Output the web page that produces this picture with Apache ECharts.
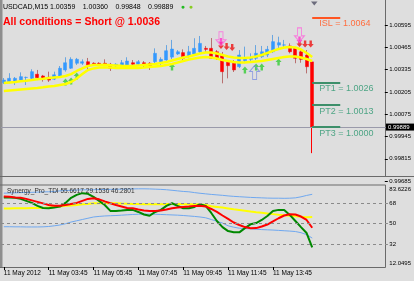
<!DOCTYPE html>
<html><head><meta charset="utf-8">
<script src="https://cdn.jsdelivr.net/npm/echarts@6/dist/echarts.min.js"></script>
<style>html,body{margin:0;padding:0;background:#DEDEDE}#c{width:414px;height:281px}</style>
</head><body><div id="c"></div>
<script>
const FONT = "'Liberation Sans', Arial, sans-serif";

// ---- categories (M15 bars, 11 May 2012) ----
const categories = ['01:45','02:00','02:15','02:30','02:45','03:00','03:15','03:30','03:45','04:00','04:15','04:30','04:45','05:00','05:15','05:30','05:45','06:00','06:15','06:30','06:45','07:00','07:15','07:30','07:45','08:00','08:15','08:30','08:45','09:00','09:15','09:30','09:45','10:00','10:15','10:30','10:45','11:00','11:15','11:30','11:45','12:00','12:15','12:30','12:45','13:00','13:15','13:30','13:45','14:00','14:15','14:30','14:45','15:00','15:15','15:30',
  '15:45','16:00','16:15','16:30','16:45','17:00','17:15','17:30','17:45','18:00','18:15','18:30','18:45'];
const firstDateLabel = '11 May 2012';
const datePrefix = '11 May ';

// ---- candles [open, close, low, high] ----
const ohlc = [
[1.00259,1.00274,1.00251,1.00286],[1.00265,1.00284,1.00255,1.00314],[1.00269,1.00284,1.00245,1.00292],[1.00274,1.00294,1.00269,1.00319],
[1.00289,1.00290,1.00245,1.00294],[1.00284,1.00323,1.00279,1.00337],[1.00308,1.00288,1.00274,1.00333],[1.00298,1.00279,1.00265,1.00304],
[1.00290,1.00274,1.00263,1.00323],[1.00279,1.00305,1.00274,1.00323],[1.00294,1.00343,1.00286,1.00356],[1.00333,1.00375,1.00323,1.00407],
[1.00343,1.00395,1.00339,1.00407],[1.00372,1.00395,1.00362,1.00403],[1.00372,1.00381,1.00362,1.00395],[1.00381,1.00362,1.00333,1.00403],
[1.00372,1.00364,1.00356,1.00378],[1.00372,1.00362,1.00356,1.00378],[1.00372,1.00358,1.00356,1.00395],[1.00366,1.00343,1.00327,1.00374],
[1.00356,1.00366,1.00350,1.00372],[1.00356,1.00375,1.00350,1.00391],[1.00362,1.00385,1.00356,1.00407],[1.00375,1.00366,1.00356,1.00391],
[1.00366,1.00381,1.00356,1.00391],[1.00375,1.00360,1.00350,1.00385],[1.00372,1.00358,1.00333,1.00379],[1.00381,1.00430,1.00372,1.00459],
[1.00381,1.00395,1.00362,1.00407],[1.00391,1.00445,1.00384,1.00478],[1.00408,1.00455,1.00396,1.00508],[1.00426,1.00439,1.00420,1.00449],
[1.00434,1.00401,1.00381,1.00453],[1.00414,1.00439,1.00401,1.00473],[1.00426,1.00459,1.00420,1.00518],[1.00439,1.00488,1.00432,1.00531],
[1.00459,1.00453,1.00437,1.00473],[1.00459,1.00401,1.00397,1.00519],[1.00439,1.00401,1.00391,1.00449],[1.00420,1.00323,1.00255,1.00438],
[1.00378,1.00358,1.00284,1.00385],[1.00372,1.00333,1.00321,1.00391],[1.00352,1.00420,1.00344,1.00449],[1.00387,1.00401,1.00372,1.00469],
[1.00395,1.00401,1.00381,1.00430],[1.00401,1.00430,1.00391,1.00478],[1.00410,1.00439,1.00403,1.00473],[1.00420,1.00453,1.00408,1.00473],
[1.00439,1.00498,1.00432,1.00537],[1.00478,1.00492,1.00459,1.00527],[1.00478,1.00479,1.00459,1.00508],[1.00473,1.00439,1.00430,1.00488],
[1.00459,1.00401,1.00372,1.00467],[1.00439,1.00395,1.00375,1.00449],[1.00420,1.00352,1.00313,1.00449],[1.00380,1.00000,0.99848,1.00390]
];

// ---- yellow bands on price ----
const bandUpper = [1.00257,1.00260,1.00263,1.00267,1.00270,1.00274,1.00279,1.00282,1.00286,1.00289,1.00292,1.00298,1.00309,1.00327,1.00342,1.00356,1.00362,1.00362,1.00363,1.00361,1.00359,1.00357,1.00356,1.00356,1.00359,1.00362,1.00365,1.00368,1.00374,1.00379,1.00388,1.00397,1.00406,1.00411,1.00420,1.00429,1.00435,1.00435,1.00429,1.00420,1.00411,1.00406,1.00403,1.00403,1.00406,1.00411,1.00420,1.00432,1.00444,1.00455,1.00464,1.00467,1.00464,1.00452,1.00432,1.00409];
const bandLower = [1.00210,1.00213,1.00216,1.00219,1.00222,1.00225,1.00228,1.00232,1.00237,1.00239,1.00245,1.00251,1.00263,1.00283,1.00309,1.00333,1.00342,1.00347,1.00348,1.00347,1.00345,1.00344,1.00344,1.00344,1.00345,1.00347,1.00350,1.00353,1.00356,1.00362,1.00368,1.00376,1.00385,1.00394,1.00400,1.00406,1.00409,1.00406,1.00400,1.00391,1.00385,1.00379,1.00376,1.00376,1.00379,1.00382,1.00385,1.00391,1.00397,1.00403,1.00409,1.00411,1.00411,1.00406,1.00397,1.00385];

// ---- signal arrows [barIndex, price] ----
const buyArrows = [[11,1.00263],[12,1.00268],[13,1.00298],[30,1.00350],[43,1.00333],[45,1.00350],[46,1.00350],[49,1.00379]];
const sellArrows = [[39,1.00475],[40,1.00470],[41,1.00464],[53,1.00487],[54,1.00484],[55,1.00484]];
const entrySellArrows = [[39,1.00499],[53,1.00508]];
const hollowSell = [[39,1.00515],[53,1.00538]];
const hollowBuy = [[45,1.00318]];

// ---- trade levels ----
const levelNames = ['ISL','PT1','PT2','PT3'];
const levelValues = [1.0064,1.0026,1.0013,1.0000];
const levelStartBar = 55, levelEndBar = 60;
const lastPrice = 0.99889;
const headerName = 'USDCAD,M15';
const headerValues = ['1.00359','1.00360','0.99848','0.99889'];
const signalText = 'All conditions = Short @ 1.0036';

// ---- price axis ----
const priceTicks = [0.99685,0.99815,0.99945,1.00075,1.00205,1.00335,1.00465,1.00595];
const priceMin = 0.99685, priceMax = 1.00735;

// ---- TDI sub window ----
const tdiName = 'Synergy_Pro_TDI';
const tdiHeaderValues = ['55.6617','29.1536','46.2801'];
const tdiGreen = [72.7,72.8,72.4,71.5,69.8,68.0,65.4,63.6,63.3,64.0,64.8,68.0,72.4,75.0,76.5,75.9,73.3,69.8,66.2,61.0,61.0,61.4,61.9,61.9,60.1,57.9,56.8,60.1,61.9,65.4,67.7,65.4,63.3,63.3,64.5,66.9,65.4,59.2,52.2,46.9,43.4,42.3,42.3,46.0,49.3,50.4,53.1,56.6,61.0,61.9,61.9,57.5,52.2,46.9,41.7,29.1536];
const tdiRed = [73.5,73.3,72.8,72.4,71.5,70.2,68.9,67.6,66.2,65.6,65.6,66.2,67.1,68.0,69.8,71.5,72.1,71.1,69.3,67.7,66.2,64.9,63.6,63.3,62.3,61.4,61.0,61.0,61.4,62.3,63.3,64.0,64.5,64.9,65.4,65.6,64.9,62.7,60.1,57.0,54.0,50.9,48.7,46.9,45.8,46.0,47.4,49.1,51.8,54.6,57.0,58.1,57.9,56.1,53.1,46.2801];
const tdiYellow = [63.2,63.2,63.3,63.3,63.4,63.5,63.5,63.7,64.0,64.5,64.9,65.4,65.8,66.2,66.9,67.1,67.6,67.7,67.7,67.7,67.6,67.4,67.3,67.1,67.1,66.9,66.9,66.9,66.9,67.1,67.1,67.1,66.9,66.9,66.9,66.7,66.2,65.1,64.5,63.9,63.2,62.5,61.9,61.2,60.5,59.9,59.4,58.8,58.2,57.6,57.2,56.8,56.3,55.9,55.5,55.6617];
const tdiUpper = [76.5,76.6,76.8,77.0,77.1,77.2,77.4,77.6,77.7,78.0,78.5,78.8,79.0,79.2,79.4,79.4,79.5,79.6,79.7,79.8,79.9,80.0,80.1,80.2,80.3,80.3,80.2,80.0,79.8,79.5,79.0,78.5,78.0,77.7,77.0,76.4,75.9,75.4,75.0,74.6,74.1,73.7,73.4,73.1,72.8,72.6,72.4,72.2,72.1,72.1,72.0,72.1,72.4,73.3,74.5,75.5];
const tdiLower = [47.2,47.2,47.1,47.1,47.0,47.0,47.0,47.1,47.4,48.0,48.7,49.8,51.3,52.4,53.5,54.6,55.7,56.2,56.6,56.8,57.0,57.3,57.6,57.9,58.1,58.2,58.2,58.1,57.9,57.7,57.5,57.3,57.0,56.6,56.2,55.7,55.0,53.5,52.0,50.4,48.0,46.8,45.9,45.6,45.4,45.0,44.7,44.5,44.3,44.0,43.7,43.4,43.0,42.0,40.3,37.3];
const tdiLevels = [32,50,68];
const tdiMin = 12.0495, tdiMax = 83.6226;
const tdiLabels = [tdiMin,32,50,68,tdiMax];

// ---- build ----
const bodies = ohlc.map(d => [d[0], d[1], Math.min(d[0], d[1]), Math.max(d[0], d[1])]);
const wicks = ohlc.map((d, i) => i === ohlc.length - 1
  ? {value: d, itemStyle: {color0: '#FF0000', borderColor0: '#FF0000'}} : d);
const showTick = (i) => i % 8 === 0 && i <= 48;

const arrowUp = 'path://M5,0 L10,5.5 L7,5.5 L7,11 L3,11 L3,5.5 L0,5.5 Z';
const arrowDown = 'path://M3,0 L7,0 L7,5.5 L10,5.5 L5,11 L0,5.5 L3,5.5 Z';
const hollowDown = 'path://M3,0 L7,0 L7,8 L10,8 L5,14 L0,8 L3,8 Z';
const hollowUp = 'path://M5,0 L10,6 L7,6 L7,14 L3,14 L3,6 L0,6 Z';

const levelLines = levelValues.map((v, k) => [
  {coord: [levelStartBar, v],
   lineStyle: {color: k === 0 ? '#FF5522' : '#3D8F6A', width: 2, type: 'solid'},
   label: {show: true, position: 'insideStartBottom', distance: [7, 2],
     formatter: levelNames[k] + ' = ' + v.toFixed(4),
     color: k === 0 ? '#FF6E40' : '#4EA585', fontSize: 9, fontFamily: FONT}},
  {coord: [levelEndBar, v]}
]);

const option = {
  animation: false,
  backgroundColor: '#DEDEDE',
  textStyle: {fontFamily: FONT},
  title: [
    {left: 3, top: 3.5, padding: 0,
     text: '{s|' + headerName + '}' + headerValues.map(v => '{n|' + v + '}').join('') + '{g|●}{h|●}',
     textStyle: {fontSize: 7, fontWeight: 'normal', color: '#000', fontFamily: FONT, lineHeight: 8,
       rich: {s: {width: 47, fontSize: 7, color: '#000', fontFamily: FONT},
              n: {width: 32.7, fontSize: 7, color: '#000', fontFamily: FONT},
              g: {width: 8, fontSize: 7, color: '#22BB22'},
              h: {width: 8, fontSize: 7, color: '#88CC22'}}}},
    {left: 3, top: 16.5, padding: 0, text: signalText,
     textStyle: {fontSize: 10.5, fontWeight: 'bold', color: '#FF0000', fontFamily: FONT}},
    {left: 7, top: 188, padding: 0, text: tdiName + ' ' + tdiHeaderValues.join(' '),
     textStyle: {fontSize: 6.5, fontWeight: 'normal', color: '#333', fontFamily: FONT}}
  ],
  grid: [
    {left: 1, right: 25.91, top: 1, bottom: 99.9},
    {left: 1, right: 25.91, top: 185, bottom: 14}
  ],
  xAxis: [
    {type: 'category', gridIndex: 0, data: categories, show: false},
    {type: 'category', gridIndex: 1, data: categories,
     axisLine: {show: false},
     axisTick: {show: true, alignWithLabel: true, length: 3, interval: showTick, lineStyle: {color: '#000'}},
     axisLabel: {interval: showTick, align: 'left', fontSize: 6.5, color: '#000', margin: 3, fontFamily: FONT,
       formatter: (v, i) => i === 0 ? firstDateLabel : datePrefix + v},
     splitLine: {show: false}}
  ],
  yAxis: [
    {type: 'value', gridIndex: 0, position: 'right', offset: -3.09, min: priceMin, max: priceMax,
     axisLine: {show: false}, splitLine: {show: false},
     axisTick: {show: true, customValues: priceTicks, length: 3, lineStyle: {color: '#000'}},
     axisLabel: {customValues: priceTicks, formatter: v => v.toFixed(5), fontSize: 6, color: '#000', margin: 4.5, fontFamily: FONT}},
    {type: 'value', gridIndex: 1, position: 'right', offset: -3.09, min: tdiMin, max: tdiMax,
     axisLine: {show: false}, splitLine: {show: false},
     axisTick: {show: false},
     axisLabel: {customValues: tdiLabels, fontSize: 6, color: '#000', margin: 4.5, fontFamily: FONT,
       formatter: v => v === tdiMax ? '{t|' + v.toFixed(4) + '}' : (v === tdiMin ? '{b|' + v.toFixed(4) + '}' : String(v)),
       rich: {t: {padding: [8, 0, 0, 0], fontSize: 6, color: '#000', fontFamily: FONT},
              b: {padding: [0, 0, 8, 0], fontSize: 6, color: '#000', fontFamily: FONT}}}}
  ],
  series: [
    {type: 'line', name: 'bandUpper', xAxisIndex: 0, yAxisIndex: 0, data: bandUpper, symbol: 'none',
     lineStyle: {color: '#FFFF00', width: 2.5}},
    {type: 'line', name: 'bandLower', xAxisIndex: 0, yAxisIndex: 0, data: bandLower, symbol: 'none',
     lineStyle: {color: '#FFFF00', width: 2.5}},
    {type: 'candlestick', name: 'wicks', xAxisIndex: 0, yAxisIndex: 0, data: wicks, barWidth: 1,
     itemStyle: {color: '#6AA6E0', color0: '#B87070', borderColor: '#6AA6E0', borderColor0: '#B87070', borderWidth: 1}},
    {type: 'candlestick', name: 'bodies', xAxisIndex: 0, yAxisIndex: 0, data: bodies, barWidth: 3.5,
     itemStyle: {color: '#3399FF', color0: '#FF0000', borderColor: '#3399FF', borderColor0: '#FF0000', borderWidth: 0.5},
     markLine: {symbol: ['none', 'none'], silent: true, animation: false,
       data: [
         {yAxis: lastPrice, lineStyle: {color: '#9A9AAA', width: 1, type: 'solid'},
          label: {show: true, position: 'end', distance: [-2, 0], formatter: lastPrice.toFixed(5),
            color: '#fff', backgroundColor: '#000', fontSize: 6, lineHeight: 6, padding: [1, 6, 0, 2], fontFamily: FONT}},
         ...levelLines
       ]}},
    {type: 'scatter', name: 'buy', xAxisIndex: 0, yAxisIndex: 0, data: buyArrows, symbol: arrowUp,
     symbolSize: [6, 7], itemStyle: {color: '#33CC33'}},
    {type: 'scatter', name: 'sell', xAxisIndex: 0, yAxisIndex: 0, data: sellArrows, symbol: arrowDown,
     symbolSize: [6, 7], symbolOffset: [-1.5, 0], itemStyle: {color: '#EE1111'}},
    {type: 'scatter', name: 'entry', xAxisIndex: 0, yAxisIndex: 0, data: entrySellArrows, symbol: arrowDown,
     symbolSize: [6, 7], symbolOffset: [-1.5, 0], itemStyle: {color: '#FF33CC'}},
    {type: 'scatter', name: 'hollowSell', xAxisIndex: 0, yAxisIndex: 0, data: hollowSell, symbol: hollowDown,
     symbolSize: [10, 14], symbolOffset: [-1.5, 0], itemStyle: {color: 'rgba(0,0,0,0)', borderColor: '#FF66DD', borderWidth: 1}},
    {type: 'scatter', name: 'hollowBuy', xAxisIndex: 0, yAxisIndex: 0, data: hollowBuy, symbol: hollowUp,
     symbolSize: [10, 14], symbolOffset: [-1.5, 0], itemStyle: {color: 'rgba(0,0,0,0)', borderColor: '#7B8FE0', borderWidth: 1}},

    {type: 'line', name: 'tdiUpper', xAxisIndex: 1, yAxisIndex: 1, data: tdiUpper, symbol: 'none',
     lineStyle: {color: '#6FA8F0', width: 1},
     markLine: {symbol: ['none', 'none'], silent: true, label: {show: false},
       lineStyle: {type: [3, 3], color: '#8A8A8A', width: 1},
       data: tdiLevels.map(v => ({yAxis: v}))}},
    {type: 'line', name: 'tdiLower', xAxisIndex: 1, yAxisIndex: 1, data: tdiLower, symbol: 'none',
     lineStyle: {color: '#6FA8F0', width: 1}},
    {type: 'line', name: 'tdiYellow', xAxisIndex: 1, yAxisIndex: 1, data: tdiYellow, symbol: 'none',
     lineStyle: {color: '#FFFF00', width: 2}},
    {type: 'line', name: 'tdiGreen', xAxisIndex: 1, yAxisIndex: 1, data: tdiGreen, symbol: 'none',
     lineStyle: {color: '#008800', width: 2}},
    {type: 'line', name: 'tdiRed', xAxisIndex: 1, yAxisIndex: 1, data: tdiRed, symbol: 'none',
     lineStyle: {color: '#FF0000', width: 2}}
  ],
  graphic: [
    {type: 'rect', silent: true, shape: {x: 0, y: 0, width: 2.5, height: 268}, style: {fill: '#8E8E8E'}},
    {type: 'line', silent: true, shape: {x1: 0, y1: 176.5, x2: 414, y2: 176.5}, style: {stroke: '#6A6A6A', lineWidth: 1}},
    {type: 'line', silent: true, shape: {x1: 0, y1: 185, x2: 385.5, y2: 185}, style: {stroke: '#6A6A6A', lineWidth: 1}},
    {type: 'line', silent: true, shape: {x1: 0, y1: 267.5, x2: 385.5, y2: 267.5}, style: {stroke: '#6A6A6A', lineWidth: 1}},
    {type: 'line', silent: true, shape: {x1: 385.5, y1: 0, x2: 385.5, y2: 176.5}, style: {stroke: '#6A6A6A', lineWidth: 1}},
    {type: 'line', silent: true, shape: {x1: 385.5, y1: 185, x2: 385.5, y2: 267.5}, style: {stroke: '#6A6A6A', lineWidth: 1}},
    {type: 'polygon', silent: true, shape: {points: [[311, 1.5], [317.5, 1.5], [314.25, 5.5]]}, style: {fill: '#6C6C7C'}}
  ]
};

const chart = echarts.init(document.getElementById('c'), null, {renderer: 'canvas'});
chart.setOption(option);
</script></body></html>
